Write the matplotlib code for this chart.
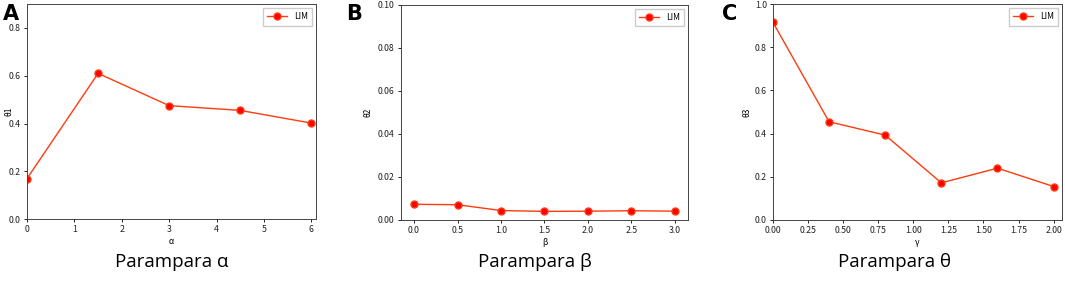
import matplotlib
matplotlib.use('Agg')
import matplotlib.pyplot as plt

plt.rcParams['font.family'] = ['Noto Sans CJK SC', 'DejaVu Sans']

# panel A
alpha_x = [0, 1.5, 3, 4.5, 6]
theta1 = [0.17, 0.61, 0.475, 0.455, 0.402]
# panel B
beta_x = [0.0, 0.5, 1.0, 1.5, 2.0, 2.5, 3.0]
theta2 = [0.0073, 0.0071, 0.0044, 0.0040, 0.0041, 0.0043, 0.0041]
# panel C
gamma_x = [0.0, 0.4, 0.8, 1.2, 1.6, 2.0]
theta3 = [0.915, 0.455, 0.393, 0.172, 0.24, 0.155]

panels = [
    ('A', alpha_x, theta1, 'α', 'θ1', 'Parampara α', (0, 6.1), (0, 0.9), [0, 0.2, 0.4, 0.6, 0.8]),
    ('B', beta_x, theta2, 'β', 'θ2', 'Parampara β', None, (0, 0.1), [0, 0.02, 0.04, 0.06, 0.08, 0.10]),
    ('C', gamma_x, theta3, 'γ', 'θ3', 'Parampara θ', (0, 2.06), (0, 1.0), [0, 0.2, 0.4, 0.6, 0.8, 1.0]),
]
rects = [
    [0.0254, 0.247, 0.2713, 0.739],
    [0.3765, 0.244, 0.2695, 0.739],
    [0.7258, 0.244, 0.2714, 0.742],
]
ylabel_x = [-0.048, -0.098, -0.076]
letter_x = [0.003, 0.325, 0.678]
caption_x = [172 / 1065, 535 / 1065, 895 / 1065]

fig = plt.figure(figsize=(10.65, 2.91), dpi=100)
for i, (tag, xs, ys, xl, yl, cap, xlim, ylim, yticks) in enumerate(panels):
    ax = fig.add_axes(rects[i])
    ax.plot(xs, ys, color='#ff3b0f', lw=1.0, marker='o', ms=5,
            markerfacecolor='red', markeredgecolor='#ff3b0f', label='LIM')
    if xlim is not None:
        ax.set_xlim(*xlim)
    ax.set_ylim(*ylim)
    ax.set_yticks(yticks)
    if tag == 'B':
        ax.set_yticklabels(['%.2f' % v for v in yticks])
    else:
        ax.set_yticklabels(['%.1f' % v for v in yticks])
    ax.tick_params(labelsize=6.3, length=2.5, width=0.6, pad=2, labelcolor='#222222')
    ax.set_xlabel(xl, fontsize=6, labelpad=2)
    ax.set_ylabel(yl, fontsize=6)
    ax.yaxis.set_label_coords(ylabel_x[i], 0.5)
    for s in ax.spines.values():
        s.set_linewidth(0.7)
        s.set_color('#444444')
    ax.legend(loc='upper right', fontsize=6, handlelength=2.4, borderpad=0.5,
              fancybox=False, edgecolor='#cccccc', framealpha=1)
    fig.text(letter_x[i], 0.985, tag, fontsize=15, fontweight='bold',
             family='DejaVu Sans', va='top', ha='left')
    fig.text(caption_x[i], 0.1, cap, fontsize=13.5, family=['Open Sans', 'DejaVu Sans'],
             ha='center', va='center')

fig.savefig('out.png', dpi=100)
